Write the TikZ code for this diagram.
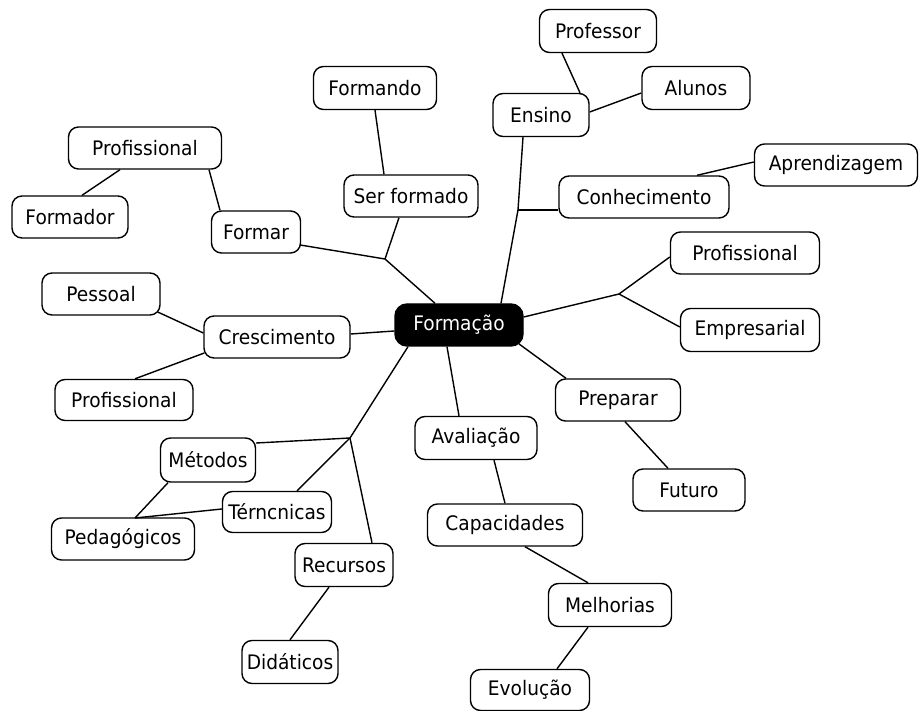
\documentclass[tikz,border=0pt]{standalone}
\usepackage{fontspec}
\setmainfont[FakeStretch=0.93]{DejaVu Sans}
\begin{document}
\begin{tikzpicture}[x=1pt,y=-1pt,
  box/.style={draw=black,line width=1.4pt,rounded corners=10pt,fill=white,inner sep=0pt,
    font=\fontsize{20}{23}\selectfont,text=black},
  main/.style={box,fill=black,text=white,rounded corners=12pt},
  link/.style={line width=1.4pt,draw=black}]
\useasboundingbox (0,0) rectangle (919,711);
% nodes
\node[main,minimum width=128pt,minimum height=42pt] (form) at (459,325) {Formação};
\node[box,minimum width=117pt,minimum height=43pt] (prof1) at (598,31) {Professor};
\node[box,minimum width=108pt,minimum height=43pt] (alu) at (696,88) {Alunos};
\node[box,minimum width=96pt,minimum height=43pt] (ens) at (541,115) {Ensino};
\node[box,minimum width=163pt,minimum height=42pt] (apr) at (836,165) {Aprendizagem};
\node[box,minimum width=170pt,minimum height=42pt] (con) at (644,197) {Conhecimento};
\node[box,minimum width=149pt,minimum height=42pt] (pr2) at (745,253) {Profissional};
\node[box,minimum width=139pt,minimum height=43pt] (emp) at (750,330) {Empresarial};
\node[box,minimum width=125pt,minimum height=42pt] (prep) at (618,400) {Preparar};
\node[box,minimum width=112pt,minimum height=42pt] (fut) at (689,490) {Futuro};
\node[box,minimum width=122pt,minimum height=43pt] (aval) at (476,438) {Avaliação};
\node[box,minimum width=155pt,minimum height=42pt] (cap) at (505,525) {Capacidades};
\node[box,minimum width=123pt,minimum height=43pt] (mel) at (610,605) {Melhorias};
\node[box,minimum width=119pt,minimum height=41pt] (evo) at (530,690) {Evolução};
\node[box,minimum width=98pt,minimum height=43pt] (rec) at (344,565) {Recursos};
\node[box,minimum width=96pt,minimum height=43pt] (did) at (290,662) {Didáticos};
\node[box,minimum width=109pt,minimum height=41pt] (ter) at (277,512) {Térncnicas};
\node[box,minimum width=143pt,minimum height=42pt] (ped) at (123,539) {Pedagógicos};
\node[box,minimum width=95pt,minimum height=44pt] (met) at (208,460) {Métodos};
\node[box,minimum width=138pt,minimum height=41pt] (pr3) at (124,400) {Profissional};
\node[box,minimum width=146pt,minimum height=42pt] (cres) at (277,337) {Crescimento};
\node[box,minimum width=118pt,minimum height=42pt] (pes) at (101,294) {Pessoal};
\node[box,minimum width=89pt,minimum height=42pt] (frm) at (256,232) {Formar};
\node[box,minimum width=116pt,minimum height=42pt] (fdr) at (70,217) {Formador};
\node[box,minimum width=153pt,minimum height=42pt] (pr1) at (145,148) {Profissional};
\node[box,minimum width=134pt,minimum height=42pt] (sf) at (411,196) {Ser formado};
\node[box,minimum width=123pt,minimum height=43pt] (fdo) at (375,88) {Formando};
% junctions
\coordinate (jFor) at (385,259);
\coordinate (jEns) at (518,210);
\coordinate (jProf) at (619,294);
\coordinate (jMet) at (350,438);
\coordinate (jPed) at (135,518);
% connectors
\draw[link] ([xshift=-24pt]form.north) -- (jFor);
\draw[link] (jFor) -- ([xshift=-1pt,yshift=-13pt]frm.east);
\draw[link] (jFor) -- ([xshift=-12pt]sf.south);
\draw[link] (fdo.south) -- ([xshift=-27pt]sf.north);
\draw[link] ([xshift=64pt]pr1.south) -- ([xshift=-36pt]frm.north);
\draw[link] ([xshift=-25pt]pr1.south) -- ([xshift=12pt]fdr.north);
\draw[link] ([xshift=-18pt]ens.south) -- (jEns) -- ([xshift=42pt]form.north);
\draw[link] (jEns) -- ([yshift=-13pt]con.west);
\draw[link] ([xshift=-36pt]prof1.south) -- ([xshift=39pt]ens.north);
\draw[link] ([yshift=-5pt]alu.west) -- ([yshift=3pt]ens.east);
\draw[link] ([xshift=53pt]con.north) -- ([yshift=3pt]apr.west);
\draw[link] ([yshift=8pt]form.east) -- (jProf);
\draw[link] (jProf) -- ([yshift=-4pt]pr2.west);
\draw[link] (jProf) -- ([yshift=3pt]emp.west);
\draw[link] ([xshift=-5pt,yshift=3pt]form.south east) -- ([xshift=-52pt]prep.north);
\draw[link] ([xshift=7pt]prep.south) -- ([xshift=-21pt]fut.north);
\draw[link] ([xshift=-12pt]form.south) -- ([xshift=-17pt]aval.north);
\draw[link] ([xshift=18pt]aval.south) -- (cap.north);
\draw[link] ([xshift=20pt]cap.south) -- ([xshift=-22pt]mel.north);
\draw[link] ([xshift=-22pt]mel.south) -- ([xshift=27pt]evo.north);
\draw[link] ([yshift=-6pt]form.west) -- ([yshift=3pt]cres.east);
\draw[link] ([xshift=-3pt,yshift=-18pt]pes.east) -- ([yshift=4pt]cres.west);
\draw[link] ([xshift=1pt,yshift=-16pt]cres.west) -- ([xshift=11pt]pr3.north);
\draw[link] ([xshift=-51pt]form.south) -- (jMet);
\draw[link] (jMet) -- ([yshift=17pt]met.east);
\draw[link] (jMet) -- ([xshift=20pt]ter.north);
\draw[link] (jMet) -- ([xshift=28pt]rec.north);
\draw[link] ([yshift=3pt]ter.west) -- (jPed);
\draw[link] ([xshift=-40pt]met.south) -- (jPed);
\draw[link] ([xshift=-15pt]rec.south) -- (did.north);
\end{tikzpicture}
\end{document}
